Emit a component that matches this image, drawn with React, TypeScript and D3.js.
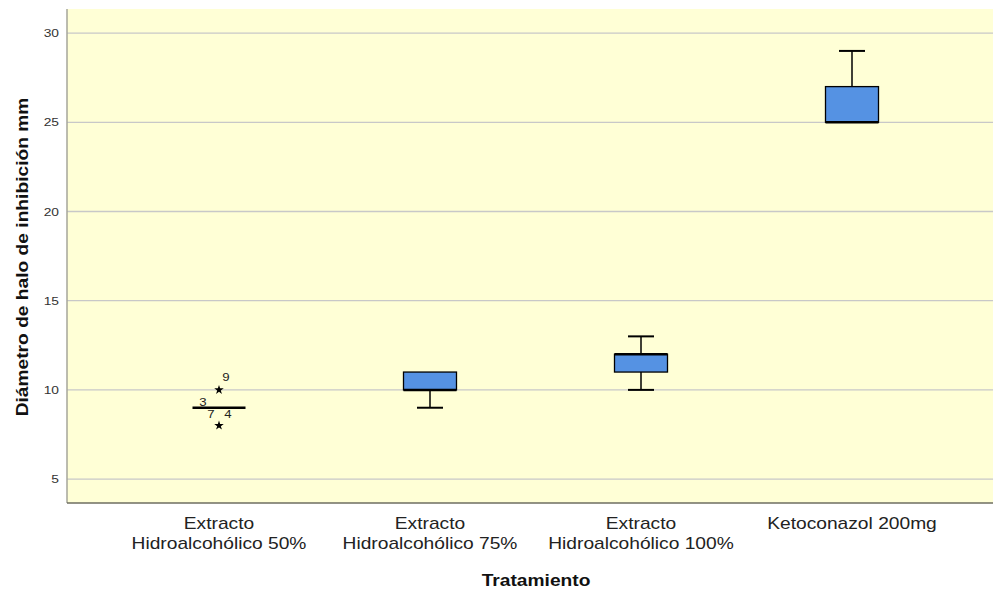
import * as d3 from 'd3'

const W = 993
const H = 589
const MARGIN = { top: 9, right: 0, bottom: 86, left: 67 }

const CATEGORIES = [
  ['Extracto', 'Hidroalcohólico 50%'],
  ['Extracto', 'Hidroalcohólico 75%'],
  ['Extracto', 'Hidroalcohólico 100%'],
  ['Ketoconazol 200mg'],
]
const WHISKER_LOW = [9, 9, 10, 25]
const Q1 = [9, 10, 11, 25]
const MEDIAN = [9, 10, 12, 25]
const Q3 = [9, 11, 12, 27]
const WHISKER_HIGH = [9, 11, 13, 29]
// extreme values (star) per category: [category index, value, case labels]
const EXTREMES: [number, number, string[]][] = [
  [0, 10, ['9']],
  [0, 8, ['3', '7', '4']],
]
const Y_TICKS = [5, 10, 15, 20, 25, 30]

const FONT = '"Liberation Sans", Arial, sans-serif'
const BG = '#FFFFD6'
const BOX_FILL = '#5592E3'
const GRID = '#C8C8C8'
const STRETCH = 1.2 // SPSS text is drawn a bit wider than Arial

export default function App() {
  const innerW = W - MARGIN.left - MARGIN.right
  const innerH = H - MARGIN.top - MARGIN.bottom
  const x = d3.scalePoint<number>()
    .domain(CATEGORIES.map((_, i) => i))
    .range([152, 785])
  const y = d3.scaleLinear([3.66, 31.35], [innerH, 0])
  const boxW = 53
  const capW = 26
  const star = d3.symbol().type(d3.symbolStar).size(28)()

  // label offsets for stacked case labels (SPSS style)
  const labelPos = (n: number, k: number) => {
    if (n === 1) return { dx: 7, dy: -9 }
    const offs = [{ dx: -16, dy: -20 }, { dx: -8, dy: -8 }, { dx: 9, dy: -8 }]
    return offs[k] ?? { dx: 0, dy: -8 }
  }

  return (
    <svg width={W} height={H} style={{ position: 'absolute', left: 0, top: 0, fontFamily: FONT }}>
      <rect width={W} height={H} fill="#fff" />
      <g transform={`translate(${MARGIN.left},${MARGIN.top})`}>
        <rect width={innerW} height={innerH} fill={BG} />
        {Y_TICKS.map(t => (
          <g key={t}>
            <line x1={0} x2={innerW} y1={y(t)} y2={y(t)} stroke={GRID} strokeWidth={1.3} />
            <g transform={`translate(-8,${y(t)}) scale(${STRETCH},1)`}>
              <text dy="0.35em" textAnchor="end" fontSize={11.5} fill="#333">{t}</text>
            </g>
          </g>
        ))}
        <line x1={0} x2={0} y1={0} y2={innerH} stroke="#A6A69A" strokeWidth={1.5} />
        <line x1={0} x2={innerW} y1={innerH} y2={innerH} stroke="#6E6E60" strokeWidth={1.3} />

        {CATEGORIES.map((_, i) => {
          const cx = x(i)!
          return (
            <g key={i} stroke="#000">
              {WHISKER_HIGH[i] > Q3[i] && (
                <>
                  <line x1={cx} x2={cx} y1={y(Q3[i])} y2={y(WHISKER_HIGH[i])} strokeWidth={1.5} />
                  <line x1={cx - capW / 2} x2={cx + capW / 2} y1={y(WHISKER_HIGH[i])} y2={y(WHISKER_HIGH[i])} strokeWidth={2} />
                </>
              )}
              {WHISKER_LOW[i] < Q1[i] && (
                <>
                  <line x1={cx} x2={cx} y1={y(Q1[i])} y2={y(WHISKER_LOW[i])} strokeWidth={1.5} />
                  <line x1={cx - capW / 2} x2={cx + capW / 2} y1={y(WHISKER_LOW[i])} y2={y(WHISKER_LOW[i])} strokeWidth={2} />
                </>
              )}
              {Q3[i] > Q1[i] && (
                <rect x={cx - boxW / 2} y={y(Q3[i])} width={boxW} height={y(Q1[i]) - y(Q3[i])}
                  fill={BOX_FILL} strokeWidth={1.3} />
              )}
              <line x1={cx - boxW / 2} x2={cx + boxW / 2} y1={y(MEDIAN[i])} y2={y(MEDIAN[i])} strokeWidth={2.5} />
            </g>
          )
        })}

        {EXTREMES.map(([ci, v, labels], j) => {
          const cx = x(ci)!
          const cy = y(v)
          return (
            <g key={j}>
              <path d={star!} transform={`translate(${cx},${cy})`} fill="#000" />
              {labels.map((l, k) => {
                const p = labelPos(labels.length, k)
                return (
                  <g key={k} transform={`translate(${cx + p.dx},${cy + p.dy}) scale(${STRETCH},1)`}>
                    <text fontSize={11} fill="#222" textAnchor="middle">{l}</text>
                  </g>
                )
              })}
            </g>
          )
        })}

        {CATEGORIES.map((lines, i) => (
          <g key={i} transform={`translate(${x(i)!},${innerH + 26}) scale(${STRETCH},1)`}>
            <text textAnchor="middle" fontSize={16} fill="#222">
              {lines.map((l, k) => (
                <tspan key={k} x={0} dy={k === 0 ? 0 : 20}>{l}</tspan>
              ))}
            </text>
          </g>
        ))}
      </g>
      <g transform={`translate(536,586) scale(${STRETCH},1)`}>
        <text textAnchor="middle" fontSize={16} fontWeight="bold" fill="#111">Tratamiento</text>
      </g>
      <g transform={`translate(28,257) rotate(-90) scale(${STRETCH},1)`}>
        <text textAnchor="middle" fontSize={16} fontWeight="bold" fill="#111">Diámetro de halo de inhibición mm</text>
      </g>
    </svg>
  )
}
